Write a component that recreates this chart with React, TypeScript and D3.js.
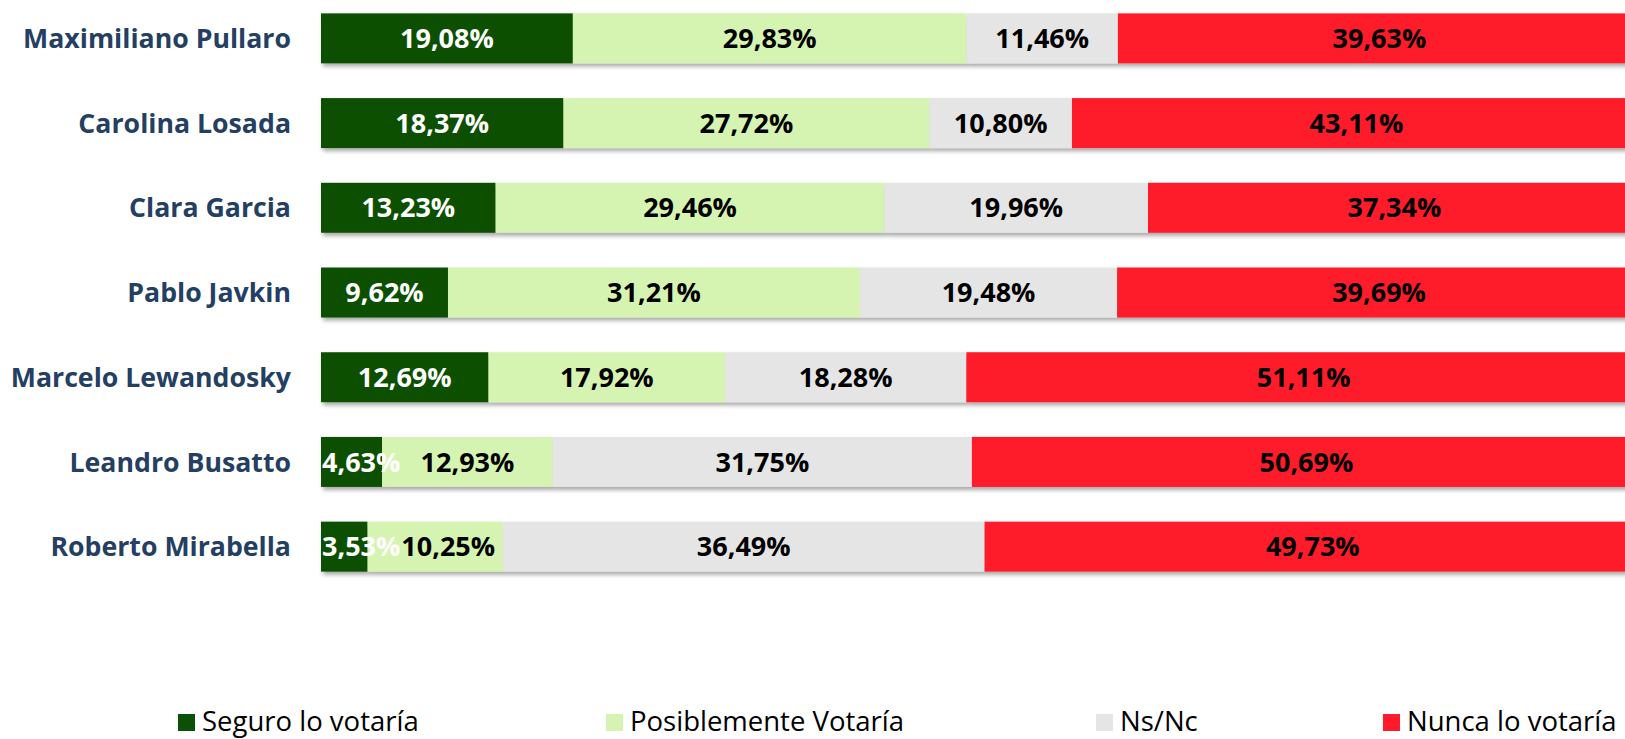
import React, { useEffect, useRef } from "react";
import * as d3 from "d3";

const candidates = [
  "Maximiliano Pullaro",
  "Carolina Losada",
  "Clara Garcia",
  "Pablo Javkin",
  "Marcelo Lewandosky",
  "Leandro Busatto",
  "Roberto Mirabella",
];

const seriesNames = ["Seguro lo votaría", "Posiblemente Votaría", "Ns/Nc", "Nunca lo votaría"];

const seguro = [19.08, 18.37, 13.23, 9.62, 12.69, 4.63, 3.53];
const posible = [29.83, 27.72, 29.46, 31.21, 17.92, 12.93, 10.25];
const nsnc = [11.46, 10.8, 19.96, 19.48, 18.28, 31.75, 36.49];
const nunca = [39.63, 43.11, 37.34, 39.69, 51.11, 50.69, 49.73];

const colors = ["#0A5006", "#D5F4B1", "#E5E5E5", "#FF1A2C"];
const labelColors = ["#ffffff", "#000000", "#000000", "#000000"];

const legendX = [178, 606, 1096, 1383];

const fmt = (v: number) => v.toFixed(2).replace(".", ",") + "%";

const App = () => {
  const svgRef = useRef<SVGSVGElement>(null);

  useEffect(() => {
    document.body.style.margin = "0";
    const width = 1625;
    const height = 739;
    const svg = d3.select(svgRef.current);
    svg.selectAll("*").remove();
    svg.attr("width", width).attr("height", height);

    const defs = svg.append("defs");
    defs
      .append("filter")
      .attr("id", "shadow")
      .attr("x", "-5%")
      .attr("y", "-20%")
      .attr("width", "110%")
      .attr("height", "150%")
      .append("feDropShadow")
      .attr("dx", 2)
      .attr("dy", 3)
      .attr("stdDeviation", 2)
      .attr("flood-color", "#000")
      .attr("flood-opacity", 0.35);

    const rows = candidates.map((name, i) => {
      const vals = [seguro[i], posible[i], nsnc[i], nunca[i]];
      let acc = 0;
      return {
        name,
        segs: vals.map((v, k) => {
          const s = { k, v, x0: acc, x1: acc + v };
          acc += v;
          return s;
        }),
      };
    });

    const x = d3.scaleLinear().domain([0, 100]).range([321, 1641]);
    const y = d3
      .scaleBand()
      .domain(candidates)
      .range([-4, 589])
      .paddingInner(0.41)
      .paddingOuter(0.205);

    const font = "'Open Sans', 'DejaVu Sans', sans-serif";

    const rowG = svg
      .append("g")
      .selectAll("g")
      .data(rows)
      .join("g")
      .attr("transform", (d) => `translate(0,${y(d.name)})`);

    rowG
      .append("g")
      .attr("filter", "url(#shadow)")
      .selectAll("rect")
      .data((d) => d.segs)
      .join("rect")
      .attr("x", (s) => x(s.x0))
      .attr("width", (s) => x(s.x1) - x(s.x0))
      .attr("height", y.bandwidth())
      .attr("fill", (s) => colors[s.k]);

    // category labels
    svg
      .append("g")
      .selectAll("text")
      .data(candidates)
      .join("text")
      .attr("x", 291)
      .attr("y", (d) => (y(d) as number) + y.bandwidth() / 2)
      .attr("dy", "0.36em")
      .attr("text-anchor", "end")
      .attr("font-family", font)
      .attr("font-weight", 700)
      .attr("font-size", 26.7)
      .attr("fill", "#243F62")
      .text((d) => d);

    // value labels, nudged so they stay inside the bar start and do not overlap
    rowG.each(function (d) {
      const g = d3.select(this);
      let prevRight = x(0);
      d.segs.forEach((s) => {
        const t = g
          .append("text")
          .attr("y", y.bandwidth() / 2)
          .attr("dy", "0.36em")
          .attr("text-anchor", "middle")
          .attr("font-family", font)
          .attr("font-weight", 700)
          .attr("font-size", 27)
          .attr("fill", labelColors[s.k])
          .text(fmt(s.v));
        const w = (t.node() as SVGTextElement).getComputedTextLength();
        let cx = (x(s.x0) + x(s.x1)) / 2;
        cx = Math.max(cx, prevRight + w / 2 + 1);
        t.attr("x", cx);
        prevRight = cx + w / 2;
      });
    });

    // legend
    const leg = svg
      .append("g")
      .selectAll("g")
      .data(seriesNames)
      .join("g")
      .attr("transform", (_, i) => `translate(${legendX[i]},0)`);
    leg
      .append("rect")
      .attr("y", 714)
      .attr("width", 17)
      .attr("height", 17)
      .attr("fill", (_, i) => colors[i]);
    leg
      .append("text")
      .attr("x", 24)
      .attr("y", 731)
      .attr("font-family", font)
      .attr("font-size", 27.5)
      .attr("fill", "#000")
      .text((d) => d);
  }, []);

  return <svg ref={svgRef}></svg>;
};

export default App;
